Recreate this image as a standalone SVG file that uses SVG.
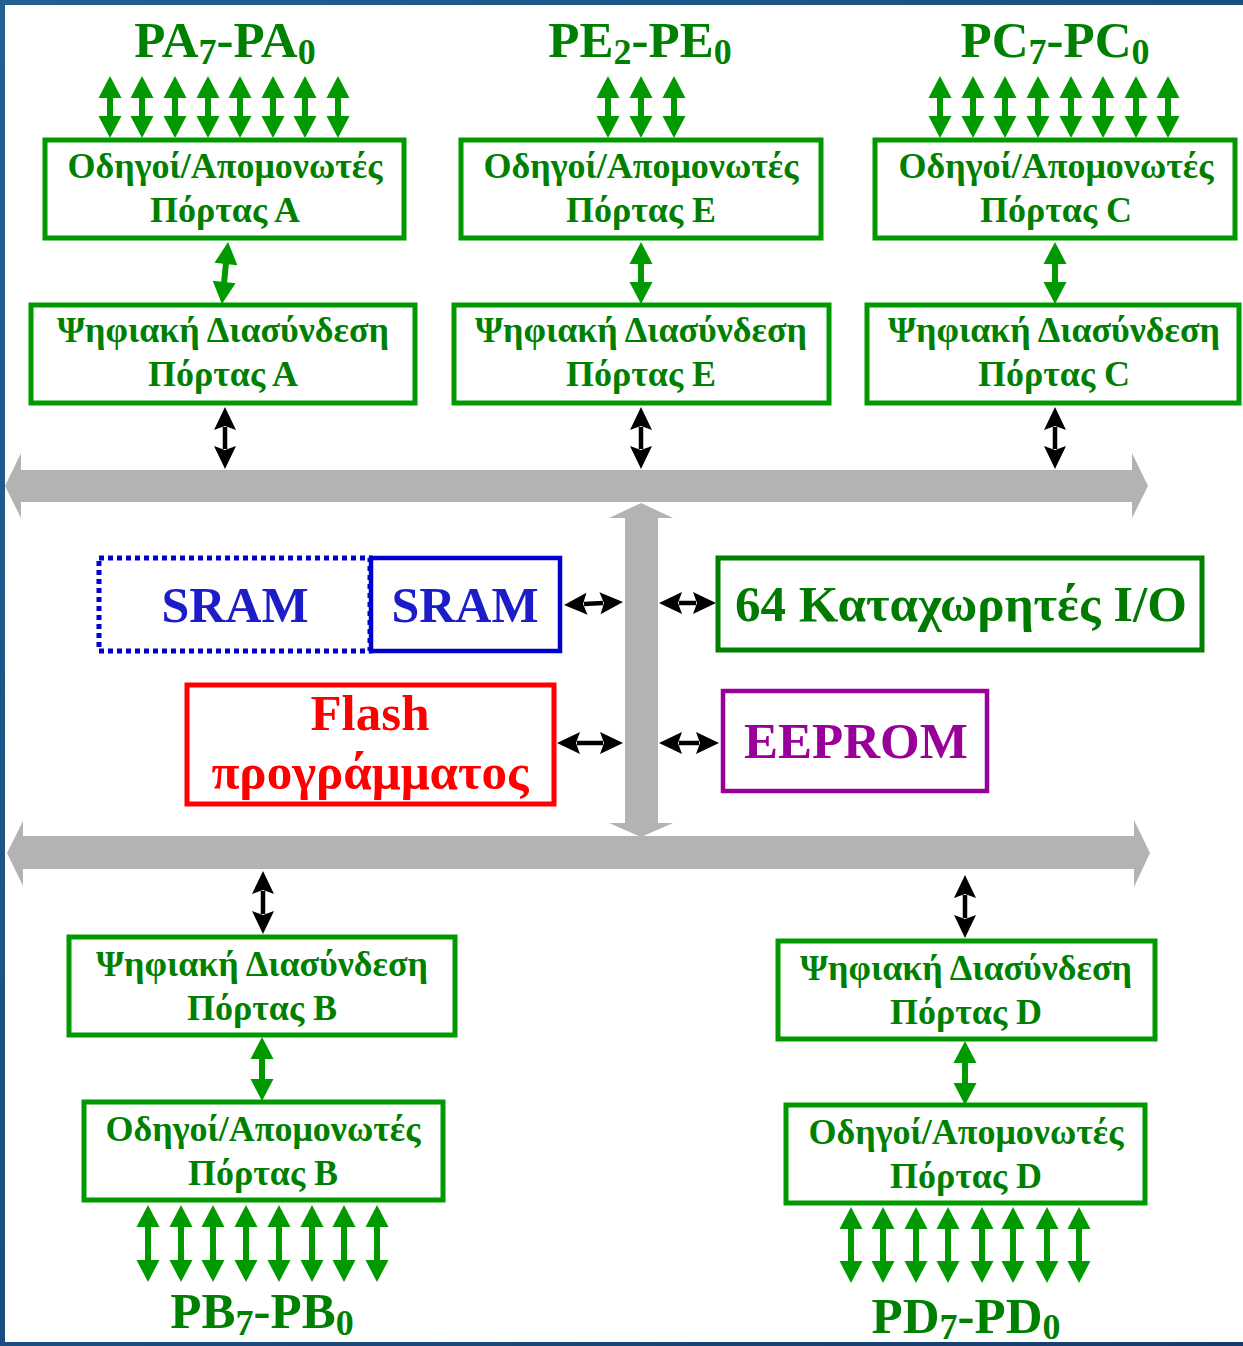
<svg xmlns="http://www.w3.org/2000/svg" width="1243" height="1346" viewBox="0 0 1243 1346">
  <defs>
    <linearGradient id="frame" x1="0" y1="0" x2="1" y2="1">
      <stop offset="0" stop-color="#235f92"/>
      <stop offset="1" stop-color="#143d6e"/>
    </linearGradient>
    <marker id="gh" markerUnits="userSpaceOnUse" orient="auto-start-reverse" refX="0" refY="0" markerWidth="24" markerHeight="24" overflow="visible">
      <path d="M-1,-11.5 L21,0 L-1,11.5 Z" fill="#009900"/>
    </marker>
    <marker id="bh" markerUnits="userSpaceOnUse" orient="auto-start-reverse" refX="0" refY="0" markerWidth="24" markerHeight="24" overflow="visible">
      <path d="M-3,-11 L20,0 L-3,11 L1,0 Z" fill="#000000"/>
    </marker>
    <style>
      .lbl { font-family: "Liberation Serif", "Times New Roman", serif; font-weight: bold; text-anchor: middle; }
      .g { fill: #008000; }
      .box { fill: #ffffff; stroke-width: 5; }
      .gbox { stroke: #009900; }
      .t36 { font-size: 36px; }
      .t51 { font-size: 51px; }
      .big { font-size: 51px; }
      .sub { font-size: 36px; }
      .garr { stroke: #009900; stroke-width: 6; marker-start: url(#gh); marker-end: url(#gh); }
      .barr { stroke: #000000; stroke-width: 4.5; marker-start: url(#bh); marker-end: url(#bh); }
      .bus { fill: #b3b3b3; }
    </style>
  </defs>

  <!-- frame and page -->
  <rect x="0" y="0" width="1243" height="1346" fill="url(#frame)"/>
  <rect x="5" y="5" width="1238" height="1337" fill="#ffffff"/>

  <!-- internal buses -->
  <g id="buses">
    <path class="bus" d="M5,486 L21,453 L21,470 L1132,470 L1132,453 L1148,486 L1132,518 L1132,502 L21,502 L21,518 Z"/>
    <path class="bus" d="M7,853 L23,821 L23,836 L1134,836 L1134,820 L1150,853 L1134,887 L1134,869 L23,869 L23,886 Z"/>
    <path class="bus" d="M641,503 L673,518 L658,518 L658,823 L673,823 L641,837 L609,823 L625,823 L625,518 L609,518 Z"/>
  </g>

  <!-- connectors -->
  <g id="connectors">
    <!-- port A pins -->
    <line class="garr" x1="110" y1="97" x2="110" y2="117"/>
    <line class="garr" x1="142" y1="97" x2="142" y2="117"/>
    <line class="garr" x1="175" y1="97" x2="175" y2="117"/>
    <line class="garr" x1="208" y1="97" x2="208" y2="117"/>
    <line class="garr" x1="240" y1="97" x2="240" y2="117"/>
    <line class="garr" x1="273" y1="97" x2="273" y2="117"/>
    <line class="garr" x1="305" y1="97" x2="305" y2="117"/>
    <line class="garr" x1="338" y1="97" x2="338" y2="117"/>
    <!-- port E pins -->
    <line class="garr" x1="608" y1="97" x2="608" y2="117"/>
    <line class="garr" x1="641" y1="97" x2="641" y2="117"/>
    <line class="garr" x1="674" y1="97" x2="674" y2="117"/>
    <!-- port C pins -->
    <line class="garr" x1="940" y1="97" x2="940" y2="117"/>
    <line class="garr" x1="973" y1="97" x2="973" y2="117"/>
    <line class="garr" x1="1005" y1="97" x2="1005" y2="117"/>
    <line class="garr" x1="1038" y1="97" x2="1038" y2="117"/>
    <line class="garr" x1="1071" y1="97" x2="1071" y2="117"/>
    <line class="garr" x1="1103" y1="97" x2="1103" y2="117"/>
    <line class="garr" x1="1136" y1="97" x2="1136" y2="117"/>
    <line class="garr" x1="1168" y1="97" x2="1168" y2="117"/>

    <!-- driver to interface -->
    <line class="garr" x1="226" y1="263" x2="224" y2="283"/>
    <line class="garr" x1="641" y1="263" x2="641" y2="283"/>
    <line class="garr" x1="1055" y1="263" x2="1055" y2="283"/>

    <!-- interface to top bus -->
    <line class="barr" x1="225" y1="427" x2="225" y2="449"/>
    <line class="barr" x1="641" y1="427" x2="641" y2="449"/>
    <line class="barr" x1="1055" y1="427" x2="1055" y2="449"/>

    <!-- memories to vertical bus -->
    <line class="barr" x1="584" y1="604" x2="603" y2="603"/>
    <line class="barr" x1="679" y1="603" x2="696" y2="603"/>
    <line class="barr" x1="577" y1="743" x2="603" y2="743"/>
    <line class="barr" x1="679" y1="743" x2="699" y2="743"/>

    <!-- bottom bus to interface -->
    <line class="barr" x1="263" y1="891" x2="263" y2="914"/>
    <line class="barr" x1="965" y1="895" x2="965" y2="918"/>

    <!-- interface to driver -->
    <line class="garr" x1="262" y1="1058" x2="262" y2="1080"/>
    <line class="garr" x1="965" y1="1062" x2="965" y2="1084"/>

    <!-- port B pins -->
    <line class="garr" x1="148" y1="1226" x2="148" y2="1261"/>
    <line class="garr" x1="181" y1="1226" x2="181" y2="1261"/>
    <line class="garr" x1="213" y1="1226" x2="213" y2="1261"/>
    <line class="garr" x1="246" y1="1226" x2="246" y2="1261"/>
    <line class="garr" x1="279" y1="1226" x2="279" y2="1261"/>
    <line class="garr" x1="312" y1="1226" x2="312" y2="1261"/>
    <line class="garr" x1="344" y1="1226" x2="344" y2="1261"/>
    <line class="garr" x1="377" y1="1226" x2="377" y2="1261"/>
    <!-- port D pins -->
    <line class="garr" x1="851" y1="1228" x2="851" y2="1262"/>
    <line class="garr" x1="883" y1="1228" x2="883" y2="1262"/>
    <line class="garr" x1="916" y1="1228" x2="916" y2="1262"/>
    <line class="garr" x1="948" y1="1228" x2="948" y2="1262"/>
    <line class="garr" x1="982" y1="1228" x2="982" y2="1262"/>
    <line class="garr" x1="1013" y1="1228" x2="1013" y2="1262"/>
    <line class="garr" x1="1047" y1="1228" x2="1047" y2="1262"/>
    <line class="garr" x1="1079" y1="1228" x2="1079" y2="1262"/>
  </g>

  <!-- pin labels -->
  <g id="label-pa"><text class="lbl g big" x="225" y="57">PA<tspan class="sub" dy="7">7</tspan><tspan dy="-7">-PA</tspan><tspan class="sub" dy="7">0</tspan></text></g>
  <g id="label-pe"><text class="lbl g big" x="640" y="57">PE<tspan class="sub" dy="7">2</tspan><tspan dy="-7">-PE</tspan><tspan class="sub" dy="7">0</tspan></text></g>
  <g id="label-pc"><text class="lbl g big" x="1055" y="57">PC<tspan class="sub" dy="7">7</tspan><tspan dy="-7">-PC</tspan><tspan class="sub" dy="7">0</tspan></text></g>
  <g id="label-pb"><text class="lbl g big" x="262" y="1328">PB<tspan class="sub" dy="7">7</tspan><tspan dy="-7">-PB</tspan><tspan class="sub" dy="7">0</tspan></text></g>
  <g id="label-pd"><text class="lbl g big" x="966" y="1333">PD<tspan class="sub" dy="6">7</tspan><tspan dy="-6">-PD</tspan><tspan class="sub" dy="6">0</tspan></text></g>

  <!-- port A -->
  <g id="driver-a">
    <rect class="box gbox" x="45" y="140" width="359" height="98"/>
    <text class="lbl g t36" x="225" y="178">Οδηγοί/Απομονωτές</text>
    <text class="lbl g t36" x="225" y="222">Πόρτας Α</text>
  </g>
  <g id="iface-a">
    <rect class="box gbox" x="31" y="305" width="384" height="98"/>
    <text class="lbl g t36" x="223" y="342">Ψηφιακή Διασύνδεση</text>
    <text class="lbl g t36" x="223" y="386">Πόρτας Α</text>
  </g>

  <!-- port E -->
  <g id="driver-e">
    <rect class="box gbox" x="461" y="140" width="360" height="98"/>
    <text class="lbl g t36" x="641" y="178">Οδηγοί/Απομονωτές</text>
    <text class="lbl g t36" x="641" y="222">Πόρτας E</text>
  </g>
  <g id="iface-e">
    <rect class="box gbox" x="454" y="305" width="375" height="98"/>
    <text class="lbl g t36" x="641" y="342">Ψηφιακή Διασύνδεση</text>
    <text class="lbl g t36" x="641" y="386">Πόρτας E</text>
  </g>

  <!-- port C -->
  <g id="driver-c">
    <rect class="box gbox" x="875" y="140" width="360" height="98"/>
    <text class="lbl g t36" x="1056" y="178">Οδηγοί/Απομονωτές</text>
    <text class="lbl g t36" x="1056" y="222">Πόρτας C</text>
  </g>
  <g id="iface-c">
    <rect class="box gbox" x="867" y="305" width="372" height="98"/>
    <text class="lbl g t36" x="1054" y="342">Ψηφιακή Διασύνδεση</text>
    <text class="lbl g t36" x="1054" y="386">Πόρτας C</text>
  </g>

  <!-- memories -->
  <g id="sram-ext">
    <rect x="99" y="558" width="271" height="93" fill="none" stroke="#0000cc" stroke-width="5" stroke-dasharray="5 4"/>
    <text class="lbl" x="235" y="622" font-size="50" fill="#1c1cc8">SRAM</text>
  </g>
  <g id="sram">
    <rect x="371" y="558" width="189" height="93" fill="none" stroke="#0000cc" stroke-width="4.5"/>
    <text class="lbl" x="465" y="622" font-size="50" fill="#1c1cc8">SRAM</text>
  </g>
  <g id="io-regs">
    <rect x="718" y="558" width="484" height="92" fill="#ffffff" stroke="#007f00" stroke-width="5"/>
    <text class="lbl t51" x="961" y="621" fill="#007a00">64 Καταχωρητές I/O</text>
  </g>
  <g id="flash">
    <rect x="187" y="685" width="367" height="119" fill="#ffffff" stroke="#ff0000" stroke-width="5"/>
    <text class="lbl t51" x="370" y="730" fill="#ff0000">Flash</text>
    <text class="lbl t51" x="370" y="789" fill="#ff0000">προγράμματος</text>
  </g>
  <g id="eeprom">
    <rect x="723" y="691" width="264" height="100" fill="#ffffff" stroke="#990099" stroke-width="4.5"/>
    <text class="lbl t51" x="856" y="758" fill="#990099">EEPROM</text>
  </g>

  <!-- port B -->
  <g id="iface-b">
    <rect class="box gbox" x="69" y="937" width="386" height="98"/>
    <text class="lbl g t36" x="262" y="976">Ψηφιακή Διασύνδεση</text>
    <text class="lbl g t36" x="262" y="1020">Πόρτας B</text>
  </g>
  <g id="driver-b">
    <rect class="box gbox" x="84" y="1102" width="359" height="98"/>
    <text class="lbl g t36" x="263" y="1141">Οδηγοί/Απομονωτές</text>
    <text class="lbl g t36" x="263" y="1185">Πόρτας B</text>
  </g>

  <!-- port D -->
  <g id="iface-d">
    <rect class="box gbox" x="778" y="941" width="377" height="98"/>
    <text class="lbl g t36" x="966" y="980">Ψηφιακή Διασύνδεση</text>
    <text class="lbl g t36" x="966" y="1024">Πόρτας D</text>
  </g>
  <g id="driver-d">
    <rect class="box gbox" x="786" y="1105" width="359" height="98"/>
    <text class="lbl g t36" x="966" y="1144">Οδηγοί/Απομονωτές</text>
    <text class="lbl g t36" x="966" y="1188">Πόρτας D</text>
  </g>
</svg>
